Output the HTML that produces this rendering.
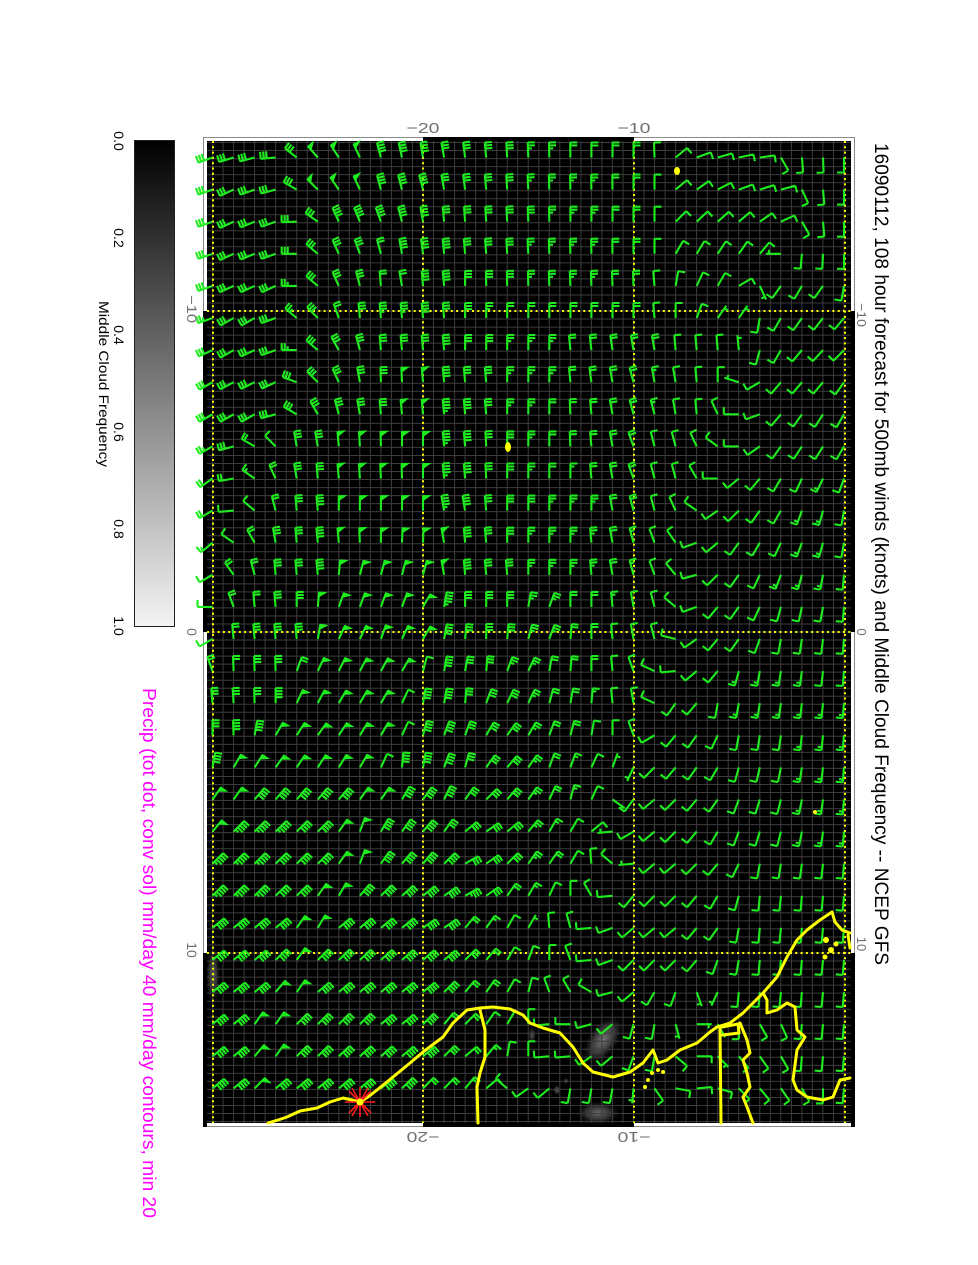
<!DOCTYPE html>
<html><head><meta charset="utf-8">
<style>html,body{margin:0;padding:0;background:#fff;}svg{display:block}</style>
</head>
<body>
<svg id="s" xmlns="http://www.w3.org/2000/svg" width="978" height="1265" viewBox="0 0 978 1265">
<defs>
<linearGradient id="cb" x1="0" y1="0" x2="0" y2="1"><stop offset="0" stop-color="#000"/><stop offset="1" stop-color="#f4f4f4"/></linearGradient>
<radialGradient id="cl"><stop offset="0" stop-color="#8c8c8c" stop-opacity="1"/><stop offset="0.55" stop-color="#555" stop-opacity="0.8"/><stop offset="1" stop-color="#222" stop-opacity="0"/></radialGradient>
</defs>
<rect width="978" height="1265" fill="#fff"/>

<!-- colorbar -->
<rect x="134.5" y="140.5" width="40" height="486" fill="url(#cb)" stroke="#222" stroke-width="1"/>
<g font-family="Liberation Sans, sans-serif" font-size="14" fill="#000" text-anchor="middle">
<text transform="translate(114,141) rotate(90)">0.0</text>
<text transform="translate(114,238) rotate(90)">0.2</text>
<text transform="translate(114,335) rotate(90)">0.4</text>
<text transform="translate(114,432) rotate(90)">0.6</text>
<text transform="translate(114,529) rotate(90)">0.8</text>
<text transform="translate(114,626) rotate(90)">1.0</text>
<text transform="translate(99,384) rotate(90)" textLength="166" lengthAdjust="spacingAndGlyphs">Middle Cloud Frequency</text>
</g>

<!-- frame -->
<rect x="203.5" y="137.5" width="651" height="989" fill="#fff" stroke="#8a8a8a" stroke-width="1"/>
<rect x="423" y="137" width="211" height="4" fill="#000"/>
<rect x="423" y="1123" width="211" height="4" fill="#000"/>
<rect x="203" y="311" width="4" height="321" fill="#000"/>
<rect x="203" y="953" width="4" height="174" fill="#000"/>
<rect x="851" y="311" width="4" height="321" fill="#000"/>
<rect x="851" y="953" width="4" height="174" fill="#000"/>
<rect x="207" y="141" width="644" height="982" fill="#000"/>

<!-- cloud blobs -->
<g fill="url(#cl)">
<ellipse cx="603" cy="1040" rx="15" ry="28" transform="rotate(35 603 1040)" opacity="0.85"/>
<ellipse cx="598" cy="1113" rx="22" ry="12" opacity="0.75"/>
<ellipse cx="557" cy="1090" rx="4" ry="5" opacity="0.7"/>
<ellipse cx="566" cy="1081" rx="3" ry="3" opacity="0.6"/>
<ellipse cx="213" cy="975" rx="7" ry="30" opacity="0.7"/>
<ellipse cx="532" cy="1035" rx="4" ry="8" opacity="0.6"/>
</g>

<!-- gray grid -->
<path id="grid" d="" stroke="#3c3c3c" stroke-width="1" fill="none"/>

<!-- yellow dotted lines -->
<g stroke="#ffff00" stroke-width="2" stroke-dasharray="2,3.3" fill="none">
<path d="M213 141V1123M423 141V1123M634 141V1123M845 141V1123"/>
<path d="M207 311H851M207 632H851M207 953H851"/>
</g>

<!-- barbs -->
<path id="bb" d="" stroke="#1eec1e" stroke-width="2.1" fill="none"/>
<path id="bf" d="" stroke="#1eec1e" stroke-width="1" fill="#1eec1e"/>

<!-- coastline -->
<g stroke="#ffff00" stroke-width="3" fill="none" stroke-linejoin="round" stroke-linecap="round">
<polyline points="268,1123 278,1120 287,1117 300,1111 317,1108 330,1102 343,1098 352,1100 360,1102 368,1097 377,1090 393,1077 410,1063 423,1052 443,1037 453,1023 467,1010 480,1008 493,1007 510,1009 523,1015 530,1023 543,1028 560,1033 573,1047 583,1063 593,1072 613,1077 630,1072 643,1063 653,1050 658,1063 667,1060 680,1050 697,1043 710,1032 717,1027 730,1023 743,1013 763,993 777,977 787,957 797,940 807,930 820,920 832,912 835,922 842,930 850,933"/>
<polyline points="480,1010 485,1030 485,1057 480,1073 477,1087 478,1123"/>
<polyline points="720,1027 721,1123"/>
<polyline points="722,1027 738,1024 739,1033 723,1035"/>
<polyline points="740,1023 747,1040 750,1053 743,1060 747,1073 750,1087 743,1097 747,1107 753,1123"/>
<polyline points="763,993 767,1000 767,1013 777,1010 787,1003 795,1007 797,1030 805,1037 797,1050 793,1080 797,1090 807,1097 823,1100 833,1097 840,1080 850,1078"/>
<polyline points="848,935 850,948"/>
</g>
<g fill="#ffff00">
<circle cx="645" cy="1087" r="2"/><circle cx="648" cy="1080" r="2"/><circle cx="652" cy="1073" r="2"/><circle cx="658" cy="1070" r="2"/><circle cx="663" cy="1072" r="2"/>
<circle cx="826" cy="940" r="3"/><circle cx="831" cy="950" r="3"/><circle cx="825" cy="957" r="2.5"/><circle cx="836" cy="944" r="2.5"/>
<ellipse cx="677" cy="171" rx="3" ry="4"/>
<ellipse cx="508" cy="447" rx="3" ry="5"/>
<circle cx="815" cy="812" r="2"/>
</g>

<!-- red star -->
<g stroke="#ff1a1a" stroke-width="1.6">
<path d="M345 1102H375M360 1087V1117M349 1091L371 1113M349 1113L371 1091M352 1088L368 1116M352 1116L368 1088"/>
</g>
<circle cx="360" cy="1102" r="3.5" fill="#ffff00"/>

<!-- axis labels -->
<g font-family="Liberation Sans, sans-serif" fill="#707070" text-anchor="middle">
<text x="423" y="133" font-size="15" textLength="33" lengthAdjust="spacingAndGlyphs">−20</text>
<text x="634" y="133" font-size="15" textLength="33" lengthAdjust="spacingAndGlyphs">−10</text>
<text transform="translate(423,1132) rotate(180)" font-size="15" textLength="33" lengthAdjust="spacingAndGlyphs">−20</text>
<text transform="translate(634,1132) rotate(180)" font-size="15" textLength="33" lengthAdjust="spacingAndGlyphs">−10</text>
<text transform="translate(187,309) rotate(90)" font-size="14" textLength="28" lengthAdjust="spacingAndGlyphs">−10</text>
<text transform="translate(187,632) rotate(90)" font-size="14">0</text>
<text transform="translate(187,950) rotate(90)" font-size="14">10</text>
<text transform="translate(857,315) rotate(90)" font-size="13" textLength="24" lengthAdjust="spacingAndGlyphs">−10</text>
<text transform="translate(857,632) rotate(90)" font-size="13">0</text>
<text transform="translate(857,944) rotate(90)" font-size="13">10</text>
</g>

<!-- title -->
<text transform="translate(875,143) rotate(90)" font-family="Liberation Sans, sans-serif" font-size="19.5" fill="#000" textLength="822" lengthAdjust="spacingAndGlyphs">16090112, 108 hour forecast for 500mb winds (knots) and Middle Cloud Frequency -- NCEP GFS</text>
<text transform="translate(143,688) rotate(90)" font-family="Liberation Sans, sans-serif" font-size="18" fill="#ff00ff" textLength="530" lengthAdjust="spacingAndGlyphs">Precip (tot dot, conv sol) mm/day 40 mm/day contours, min 20</text>
</svg>

<script>
(function(){
function f(v){return v.toFixed(1);}
var gd='';
for(var x=212.5;x<851;x+=10.525){ if(x>207) gd+='M'+f(x)+' 141V1123'; }
for(var y=142.5;y<1123;y+=8.025){ gd+='M207 '+f(y)+'H851'; }
document.getElementById('grid').setAttribute('d',gd);

var rows=[
[[0,160,30],[2,165,30],[3,175,30],[4,-142,30],[5,-131,50],[7,-115,50],[8,-105,40],[10,-100,40],[11,-100,30],[13,-95,30],[15,-92,25],[18,-90,20],[20,-90,20],[21,-92,10],[22,-40,10],[23,-20,10],[26,-8,10],[27,60,10],[28,85,10],[30,90,10]],
[[0,160,30],[1,155,30],[3,165,30],[4,-150,30],[5,-135,50],[7,-115,50],[8,-105,40],[10,-105,40],[11,-100,30],[13,-95,30],[16,-92,25],[20,-90,20],[21,-90,10],[22,-40,10],[23,-35,10],[25,-20,10],[27,-15,10],[28,65,10],[29,85,10],[30,90,10]],
[[0,160,30],[1,155,30],[3,160,30],[4,178,30],[5,-145,30],[6,-115,40],[8,-110,40],[9,-105,40],[10,-100,40],[11,-95,30],[14,-93,30],[17,-90,25],[20,-90,20],[21,-90,10],[22,-45,10],[25,-40,10],[26,-35,10],[27,-25,10],[28,60,10],[29,85,10],[30,90,10]],
[[0,160,30],[1,155,30],[3,160,30],[4,180,30],[5,-140,30],[6,-115,30],[7,-110,30],[8,-105,20],[9,-100,40],[11,-95,40],[12,-95,30],[16,-92,25],[20,-90,20],[21,-90,10],[22,-60,10],[25,-55,10],[26,-50,10],[27,180,3],[28,95,10],[30,90,10]],
[[0,160,30],[1,155,30],[3,155,30],[4,180,25],[5,-140,30],[6,-115,30],[7,-105,30],[8,-95,20],[9,-100,20],[10,-95,40],[11,-95,40],[12,-90,30],[16,-92,25],[20,-92,20],[21,-95,10],[22,-80,10],[23,-65,10],[24,-60,10],[25,-30,10],[26,65,5],[27,125,10],[28,120,10],[29,125,10],[30,100,10]],
[[0,160,25],[1,150,30],[2,150,30],[3,160,30],[4,-140,25],[5,-135,30],[6,-110,20],[7,-95,30],[10,-95,40],[11,-95,30],[12,-90,30],[13,-90,25],[14,-90,20],[20,-90,20],[21,-95,10],[22,-90,10],[23,-70,10],[24,-55,5],[25,-55,5],[26,100,10],[27,120,10],[28,125,10],[30,130,10]],
[[0,155,30],[1,150,30],[3,160,30],[4,180,25],[5,-140,30],[6,-120,30],[7,-105,30],[8,-95,30],[10,-95,30],[11,-95,40],[12,-90,30],[13,-90,30],[14,-90,25],[16,-90,25],[17,-95,20],[20,-100,20],[21,-100,20],[22,-95,10],[24,-95,10],[25,-95,3],[26,105,10],[27,120,10],[28,130,10],[30,135,10]],
[[0,150,30],[3,155,30],[4,-160,30],[5,-135,30],[6,-115,30],[7,-100,30],[8,-92,30],[9,-92,50],[10,-95,50],[11,-95,40],[12,-95,30],[13,-95,30],[14,-90,25],[16,-90,25],[17,-95,20],[19,-100,20],[20,-105,20],[21,-100,15],[22,-100,10],[24,-90,10],[25,-163,3],[26,150,10],[27,130,10],[29,130,10],[30,125,10]],
[[0,150,30],[2,150,30],[3,165,30],[4,-150,30],[5,-120,30],[6,-105,30],[7,-100,30],[8,-95,30],[9,-95,50],[10,-95,50],[11,-95,45],[12,-95,40],[13,-95,30],[14,-90,25],[15,-90,25],[16,-90,20],[18,-95,20],[19,-100,20],[20,-105,20],[21,-105,15],[22,-100,10],[23,-95,10],[24,-115,10],[25,180,10],[26,160,10],[27,130,10],[28,125,10],[30,120,10]],
[[0,150,25],[1,165,30],[2,-150,20],[3,-135,10],[4,-100,30],[5,-100,30],[6,-95,50],[9,-90,50],[10,-90,50],[11,-95,45],[12,-95,40],[13,-93,30],[14,-90,30],[15,-90,25],[16,-90,20],[18,-95,20],[19,-100,20],[20,-110,20],[21,-105,10],[22,-105,10],[23,-115,10],[24,-144,10],[25,180,10],[26,145,10],[27,125,10],[30,120,10]],
[[0,145,20],[1,170,20],[2,-145,15],[3,-115,20],[4,-100,30],[5,-95,30],[6,-95,50],[10,-90,50],[11,-95,45],[12,-95,40],[13,-93,30],[14,-90,30],[15,-90,25],[16,-90,20],[17,-90,15],[18,-95,20],[19,-100,20],[20,-110,20],[21,-105,10],[22,-105,10],[23,-120,10],[24,180,10],[25,140,10],[26,130,10],[27,120,10],[28,115,10],[29,115,15],[30,110,10]],
[[0,150,20],[1,175,10],[2,-140,10],[3,-105,20],[4,-95,30],[5,-95,40],[6,-90,50],[10,-90,50],[11,-100,45],[12,-100,40],[13,-95,30],[14,-90,30],[15,-90,30],[16,-90,25],[18,-90,25],[19,-100,20],[20,-105,20],[21,-105,10],[22,-115,10],[23,-145,10],[24,145,10],[25,135,10],[26,125,10],[27,120,10],[28,110,15],[29,105,15],[30,100,10]],
[[0,140,15],[1,-145,10],[2,-120,20],[3,-100,30],[4,-95,30],[5,-95,40],[6,-95,50],[8,-90,50],[9,-88,50],[10,-88,50],[11,-100,50],[12,-95,40],[13,-95,30],[14,-90,30],[15,-90,25],[17,-90,25],[18,-95,25],[19,-100,20],[20,-105,15],[21,-110,10],[22,-125,10],[23,160,10],[24,140,10],[25,125,10],[26,120,10],[27,115,10],[28,110,15],[29,105,15],[30,100,10]],
[[0,150,10],[1,-125,20],[2,-105,20],[3,-95,30],[4,-95,30],[5,-95,40],[6,-85,50],[7,-75,50],[10,-75,50],[11,-100,50],[12,-95,40],[13,-95,30],[14,-95,30],[15,-90,25],[17,-90,25],[18,-95,25],[19,-100,20],[20,-105,15],[21,-110,10],[22,-130,10],[23,165,10],[24,135,10],[25,125,10],[26,115,10],[27,110,15],[28,105,15],[29,100,15],[30,95,10]],
[[0,180,10],[1,-110,20],[2,-95,20],[3,-95,30],[4,-90,30],[5,-85,50],[6,-70,50],[9,-70,50],[10,-60,50],[11,-80,45],[12,-90,30],[14,-90,30],[15,-80,25],[16,-70,25],[17,-90,20],[18,-90,20],[19,-95,15],[20,-100,10],[21,-105,10],[22,-140,10],[23,160,10],[24,130,10],[25,125,10],[26,115,10],[27,105,10],[29,100,10],[30,95,10]],
[[0,150,10],[1,-95,20],[2,-95,30],[4,-95,30],[5,-80,50],[6,-65,50],[7,-65,50],[8,-70,50],[9,-65,50],[10,-60,50],[11,-80,40],[12,-85,30],[13,-90,30],[14,-85,30],[15,-75,25],[16,-70,25],[17,-85,20],[18,-90,20],[19,-95,10],[20,-100,10],[21,-105,10],[22,-166,10],[23,145,10],[24,130,10],[25,125,10],[26,110,10],[27,100,10],[30,95,10]],
[[0,-110,20],[1,-92,20],[2,-92,30],[3,-92,30],[4,-70,20],[5,-65,50],[9,-60,50],[10,-75,10],[11,-80,40],[12,-80,30],[13,-85,30],[14,-70,25],[15,-65,25],[16,-80,20],[17,-85,20],[18,-90,20],[19,-95,10],[20,-110,10],[21,-155,10],[22,175,10],[23,140,10],[24,130,10],[25,105,15],[26,100,15],[30,95,10]],
[[0,-95,30],[2,-92,30],[3,-90,40],[4,-65,50],[6,-60,50],[8,-60,50],[9,-65,10],[10,-80,40],[11,-80,40],[12,-85,30],[13,-70,30],[14,-65,30],[15,-65,25],[16,-75,20],[17,-80,20],[18,-85,15],[19,-95,10],[20,-100,10],[21,-155,10],[22,125,10],[23,130,10],[24,100,10],[25,100,15],[30,95,15]],
[[0,-90,30],[1,-92,40],[2,-80,40],[3,-60,50],[5,-55,50],[8,-60,50],[9,-65,10],[10,-75,40],[11,-70,40],[12,-70,30],[13,-60,30],[14,-55,30],[15,-60,25],[16,-70,20],[17,-75,20],[18,-80,10],[19,-90,10],[20,-110,10],[21,150,10],[22,130,10],[23,125,10],[24,115,10],[25,100,10],[30,95,15]],
[[0,-80,40],[1,-60,50],[3,-55,50],[7,-60,50],[8,-65,10],[9,-85,40],[10,-80,40],[11,-70,40],[12,-75,30],[13,-55,30],[14,-50,30],[15,-55,25],[16,-70,20],[17,-70,15],[18,-65,10],[19,-70,5],[20,115,5],[21,135,10],[22,130,10],[23,125,10],[24,120,10],[25,105,10],[30,95,15]],
[[0,-55,50],[1,-55,50],[2,-50,40],[6,-50,40],[7,-55,50],[8,-55,50],[9,-60,40],[10,-55,40],[11,-65,40],[12,-55,30],[13,-45,30],[14,-50,30],[15,-55,25],[16,-65,20],[17,-75,15],[18,-65,10],[19,35,3],[20,127,10],[21,140,10],[22,135,10],[23,130,10],[24,125,10],[25,110,10],[30,95,15]],
[[0,-50,50],[1,-45,45],[5,-45,40],[6,-55,50],[7,-70,50],[8,-60,40],[9,-55,40],[10,-50,40],[11,-55,30],[12,-40,30],[13,-35,30],[14,-40,30],[15,-50,25],[16,-60,15],[17,-60,10],[18,-40,10],[19,175,5],[20,150,10],[21,140,10],[22,135,10],[23,130,10],[24,120,10],[25,110,10],[30,95,15]],
[[0,-45,45],[5,-45,40],[6,-55,50],[7,-70,50],[8,-55,40],[9,-50,40],[10,-50,40],[11,-45,40],[12,-30,30],[13,-35,30],[14,-45,30],[15,-55,25],[16,-55,20],[17,-60,10],[18,-95,10],[19,-140,10],[20,175,5],[21,140,10],[22,140,10],[23,135,10],[24,130,10],[25,115,10],[26,100,10],[30,95,10]],
[[0,-45,45],[2,-45,45],[3,-45,40],[4,-45,40],[5,-55,50],[6,-60,50],[7,-50,40],[8,-45,40],[10,-40,40],[11,-35,40],[12,-30,35],[13,-35,30],[14,-55,20],[15,-60,15],[16,-65,10],[17,-90,10],[18,-120,10],[19,175,10],[20,130,10],[21,135,10],[22,135,10],[23,130,10],[24,120,10],[25,105,10],[26,95,10],[30,95,10]],
[[0,-40,40],[3,-40,40],[4,-55,50],[5,-60,50],[6,-40,40],[9,-40,40],[10,-35,40],[11,-35,40],[12,-50,20],[13,-55,15],[14,-60,10],[15,-60,5],[16,-95,10],[17,-105,10],[18,175,10],[19,160,10],[20,140,10],[22,140,10],[23,130,10],[24,125,10],[25,100,10],[26,95,10],[30,95,10]],
[[0,-40,40],[2,-40,40],[3,-45,40],[4,-55,50],[5,-45,40],[11,-40,40],[12,-45,30],[13,-50,20],[14,-60,10],[15,-70,10],[16,-90,10],[17,-110,10],[18,175,10],[19,160,10],[20,135,10],[22,135,10],[23,130,10],[24,110,10],[25,100,10],[26,95,10],[30,95,10]],
[[0,-40,40],[2,-40,40],[3,-50,50],[4,-55,50],[5,-40,40],[10,-40,40],[11,-45,40],[12,-50,20],[13,-55,20],[14,-60,10],[15,-75,10],[16,-110,10],[17,-120,10],[18,-150,10],[19,165,10],[20,140,10],[21,120,10],[22,110,10],[23,70,5],[24,115,5],[25,95,10],[30,95,10]],
[[0,-40,40],[1,-40,40],[2,-55,50],[3,-55,50],[4,-45,40],[7,-45,40],[8,-40,40],[9,-40,40],[10,-45,40],[11,-50,20],[12,-45,20],[13,-55,10],[14,-60,10],[15,-90,10],[16,175,10],[17,180,10],[18,165,10],[19,140,10],[20,105,10],[21,100,10],[22,75,5],[23,0,5],[24,60,5],[25,90,10],[26,60,10],[27,65,10],[28,95,10],[30,95,10]],
[[0,-40,40],[1,-40,40],[2,-50,50],[3,-55,50],[4,-45,40],[10,-40,40],[11,-45,30],[12,-40,20],[13,-50,15],[14,-80,10],[15,-90,10],[16,175,10],[17,175,10],[18,145,10],[19,140,10],[20,110,10],[21,100,10],[22,40,10],[23,0,10],[24,45,5],[25,50,10],[26,55,10],[27,60,10],[28,95,10],[30,95,10]],
[[0,-40,40],[1,-40,40],[2,-45,50],[3,-40,40],[8,-40,40],[9,-45,40],[10,-45,20],[11,-45,20],[12,-50,15],[13,-40,10],[14,-140,10],[15,145,10],[16,140,10],[17,100,10],[18,100,10],[19,100,10],[20,95,5],[21,55,10],[22,10,10],[23,-5,10],[24,15,10],[25,45,10],[26,50,10],[27,55,10],[28,60,10],[29,90,10],[30,95,10]]
];
function lerpAng(a,b,t){var d=((b-a+540)%360)-180;return a+d*t;}
var bp='',fp='';
function draw(x,y,A,S){
  var r=A*Math.PI/180,sx=Math.cos(r),sy=Math.sin(r),fx=-sy,fy=sx,L=15;
  var tx=x+sx*L,ty=y+sy*L;
  bp+='M'+f(x)+' '+f(y)+'L'+f(tx)+' '+f(ty);
  var s=Math.round(S/5)*5,pos=0;
  while(s>=50){
    var p1x=tx-sx*pos,p1y=ty-sy*pos,p2x=tx-sx*(pos+5),p2y=ty-sy*(pos+5);
    var ax=p1x+fx*7,ay=p1y+fy*7;
    fp+='M'+f(p1x)+' '+f(p1y)+'L'+f(ax)+' '+f(ay)+'L'+f(p2x)+' '+f(p2y)+'Z';
    pos+=6;s-=50;
  }
  while(s>=10){
    var px=tx-sx*pos,py=ty-sy*pos;
    bp+='M'+f(px)+' '+f(py)+'l'+f(fx*7)+' '+f(fy*7);
    pos+=3;s-=10;
  }
  if(s>=5){
    if(pos===0)pos=3;
    var qx=tx-sx*pos,qy=ty-sy*pos;
    bp+='M'+f(qx)+' '+f(qy)+'l'+f(fx*4)+' '+f(fy*4);
  }
}
for(var j=0;j<rows.length;j++){
  var an=rows[j];
  for(var i=0;i<=30;i++){
    var A,S;
    if(i<=an[0][0]){A=an[0][1];S=an[0][2];}
    else if(i>=an[an.length-1][0]){A=an[an.length-1][1];S=an[an.length-1][2];}
    else{
      for(var k=0;k<an.length-1;k++){
        if(i>=an[k][0]&&i<=an[k+1][0]){
          var t=(i-an[k][0])/(an[k+1][0]-an[k][0]);
          A=lerpAng(an[k][1],an[k+1][1],t);
          S=an[k][2]+(an[k+1][2]-an[k][2])*t;break;
        }
      }
    }
    draw(212.5+21.05*i,157.5+32.1*j,A,S);
  }
}
document.getElementById('bb').setAttribute('d',bp);
document.getElementById('bf').setAttribute('d',fp);
})();
</script>
</body></html>
